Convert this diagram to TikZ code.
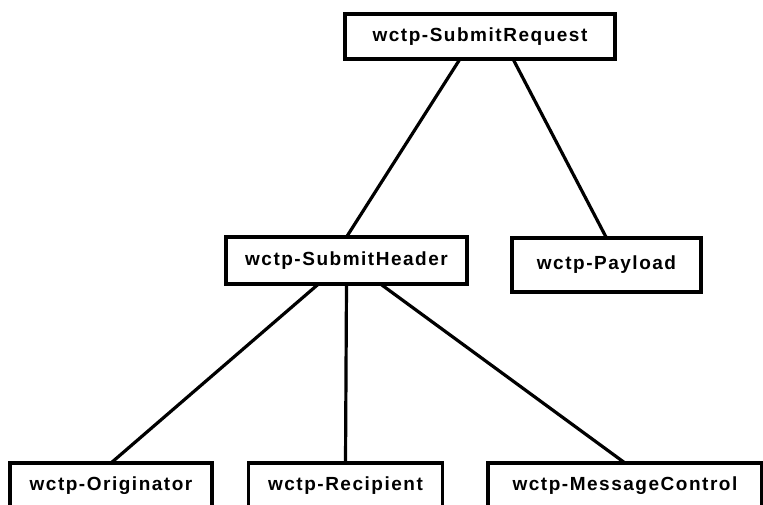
\documentclass[tikz,border=0pt]{standalone}
\usepackage{fontspec}
\usepackage{tikz}
\newfontfamily\boxfont{Liberation Sans}[LetterSpace=8]

\begin{document}
\begin{tikzpicture}[x=1pt,y=-1pt,
  box/.style={draw, line width=3.2pt, inner sep=0pt, outer sep=0pt,
    minimum height=45pt, font=\boxfont\bfseries\fontsize{19}{22}\selectfont},
  link/.style={line width=3.2pt}]
\clip (0,0) rectangle (763,504);

\node[box, minimum width=270pt] (req) at (480,36.5) {wctp-SubmitRequest};
\node[box, minimum width=241pt, minimum height=47pt] (hdr) at (346.5,260.5) {wctp-SubmitHeader};
\node[box, minimum width=189pt, minimum height=54pt] (pay) at (606.5,265) {wctp-Payload};
\node[box, minimum width=202pt] (ori) at (111,485.5) {wctp-Originator};
\node[box, minimum width=194pt] (rec) at (345.5,485.5) {wctp-Recipient};
\node[box, minimum width=274pt] (msg) at (625,485.5) {wctp-MessageControl};

\draw[link] (req.south) ++(-20,0) -- (hdr.north);
\draw[link] (req.south) ++(33,0) -- (pay.north);

\foreach \dx/\child in {-28/ori, 0/rec, 34/msg} {
\draw[link] (hdr.south) ++(\dx,0) -- (\child.north);
}

\end{tikzpicture}
\end{document}
